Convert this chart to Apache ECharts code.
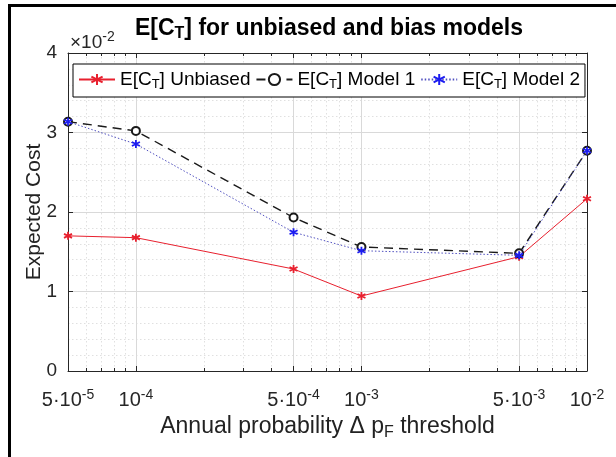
<!DOCTYPE html>
<html>
<head>
<meta charset="utf-8">
<script src="https://cdn.jsdelivr.net/npm/echarts@6/dist/echarts.min.js"></script>
<style>html,body{margin:0;padding:0;background:#fff;}#c{width:616px;height:457px;}</style>
</head>
<body>
<div id="c"></div>
<script>
// Data (cost values in units of 10^-2, as shown on the axis)
const thresholds = [5e-5, 1e-4, 5e-4, 1e-3, 5e-3, 1e-2];
const unbiased = [1.70, 1.677, 1.283, 0.943, 1.438, 2.167];
const model1   = [3.136, 3.02, 1.93, 1.56, 1.48, 2.77];
const model2   = [3.136, 2.855, 1.745, 1.513, 1.455, 2.77];
const xTickMant = ['5·10', '10', '5·10', '10', '5·10', '10'];
const xTickExp  = ['-5', '-4', '-4', '-3', '-3', '-2'];
const xMinorTicks = [6e-5, 7e-5, 8e-5, 9e-5, 2e-4, 3e-4, 4e-4, 6e-4, 7e-4, 8e-4, 9e-4,
                     2e-3, 3e-3, 4e-3, 6e-3, 7e-3, 8e-3, 9e-3];
const yTicks = [0, 1, 2, 3, 4];
const seriesNames = ['Unbiased', 'Model 1', 'Model 2'];

const FONT = '"Liberation Sans", Arial, sans-serif';
const lg = v => Math.log10(v);
const xMin = lg(thresholds[0]);
const xMax = lg(thresholds[thresholds.length - 1]);
const majorVals = thresholds.map(lg);
const minorVals = xMinorTicks.map(lg);
const pair = arr => thresholds.map((t, i) => [lg(t), arr[i]]);
const STAR = 'path://M0,-10L0,10M-8.66,-5L8.66,5M-8.66,5L8.66,-5';

const chart = echarts.init(document.getElementById('c'), null, {renderer: 'canvas'});

const baseX = {
  type: 'value', min: xMin, max: xMax, gridIndex: 0
};

const option = {
  animation: false,
  backgroundColor: '#fff',
  textStyle: {fontFamily: FONT},
  title: {
    text: '{a|E[C}{s|T}{a|] for unbiased and bias models}',
    left: 324, top: 10, textAlign: 'center',
    textStyle: {
      rich: {
        a: {fontFamily: FONT, fontSize: 23, fontWeight: 'bold', color: '#000'},
        s: {fontFamily: FONT, fontSize: 16, fontWeight: 'bold', color: '#000', padding: [11, 0, 0, 0]}
      }
    }
  },
  grid: {left: 68, right: 29, top: 53, bottom: 86, containLabel: false},
  legend: {
    left: 73, top: 64,
    orient: 'horizontal',
    backgroundColor: '#fff', borderColor: '#000', borderWidth: 1,
    padding: [6, 5, 6, 5],
    itemWidth: 36, itemHeight: 14, itemGap: 5,
    data: seriesNames,
    formatter: name => '{a|E[C}{s|T}{a|] ' + name + '}',
    textStyle: {
      rich: {
        a: {fontFamily: FONT, fontSize: 19, color: '#000'},
        s: {fontFamily: FONT, fontSize: 13, color: '#000', padding: [10, 0, 0, 0]}
      }
    }
  },
  xAxis: [
    Object.assign({}, baseX, {
      position: 'bottom',
      name: '{a|Annual probability \u0394 p}{s|F}{a| threshold}',
      nameLocation: 'middle', nameGap: 42, nameMoveOverlap: false,
      nameTextStyle: {
        rich: {
          a: {fontFamily: FONT, fontSize: 23, color: '#222'},
          s: {fontFamily: FONT, fontSize: 16, color: '#222', padding: [12, 0, 0, 0]}
        }
      },
      axisLine: {show: true, lineStyle: {color: '#262626', width: 1}},
      axisTick: {show: true, inside: true, length: 5, customValues: majorVals, lineStyle: {color: '#262626'}},
      axisLabel: {
        show: true, margin: 17, customValues: majorVals,
        formatter: v => {
          const i = majorVals.findIndex(m => Math.abs(m - v) < 1e-9);
          return i < 0 ? '' : '{m|' + xTickMant[i] + '}{e|' + xTickExp[i] + '}';
        },
        rich: {
          m: {fontFamily: FONT, fontSize: 20, color: '#262626'},
          e: {fontFamily: FONT, fontSize: 14, color: '#262626', padding: [0, 0, 11, 0]}
        }
      },
      splitLine: {show: true, lineStyle: {color: '#d9d9d9', width: 1}}
    }),
    Object.assign({}, baseX, {
      position: 'bottom',
      axisLine: {show: false},
      axisTick: {show: true, inside: true, length: 3, customValues: minorVals, lineStyle: {color: '#262626'}},
      axisLabel: {show: false},
      splitLine: {show: true, lineStyle: {color: '#e0e0e0', width: 1, type: [1.5, 2.5]}}
    }),
    Object.assign({}, baseX, {
      position: 'top',
      axisLine: {show: true, lineStyle: {color: '#262626', width: 1}},
      axisTick: {show: true, inside: true, length: 5, customValues: majorVals, lineStyle: {color: '#262626'}},
      axisLabel: {show: false},
      splitLine: {show: false}
    }),
    Object.assign({}, baseX, {
      position: 'top',
      axisLine: {show: false},
      axisTick: {show: true, inside: true, length: 3, customValues: minorVals, lineStyle: {color: '#262626'}},
      axisLabel: {show: false},
      splitLine: {show: false}
    })
  ],
  yAxis: [
    {
      type: 'value', position: 'left',
      min: yTicks[0], max: yTicks[yTicks.length - 1], interval: 1,
      name: 'Expected Cost', nameLocation: 'middle', nameGap: 23, nameMoveOverlap: false,
      nameTextStyle: {fontFamily: FONT, fontSize: 21, color: '#222'},
      axisLine: {show: true, lineStyle: {color: '#262626', width: 1}},
      axisTick: {show: true, inside: true, length: 5, lineStyle: {color: '#262626'}},
      axisLabel: {fontFamily: FONT, fontSize: 19, color: '#262626', margin: 11},
      splitLine: {show: true, lineStyle: {color: '#d9d9d9', width: 1}},
      minorTick: {show: false, splitNumber: 5},
      minorSplitLine: {show: true, lineStyle: {color: '#e0e0e0', width: 1, type: [1.5, 2.5]}}
    },
    {
      type: 'value', position: 'right',
      min: yTicks[0], max: yTicks[yTicks.length - 1], interval: 1,
      axisLine: {show: true, lineStyle: {color: '#262626', width: 1}},
      axisTick: {show: true, inside: true, length: 5, lineStyle: {color: '#262626'}},
      axisLabel: {show: false},
      splitLine: {show: false}
    }
  ],
  series: [
    {
      name: seriesNames[0], type: 'line', data: pair(unbiased),
      symbol: STAR, symbolSize: 8,
      lineStyle: {color: '#e8202e', width: 1},
      itemStyle: {color: '#e8202e', borderColor: '#e8202e', borderWidth: 1.8},
      z: 3
    },
    {
      name: seriesNames[1], type: 'line', data: pair(model1),
      symbol: 'emptyCircle', symbolSize: 8,
      lineStyle: {color: '#1a1a1a', width: 1.4, type: [9, 6]},
      itemStyle: {color: '#1a1a1a', borderColor: '#1a1a1a', borderWidth: 1.2},
      z: 4
    },
    {
      name: seriesNames[2], type: 'line', data: pair(model2),
      symbol: STAR, symbolSize: 8,
      lineStyle: {color: '#5050c0', width: 1, type: [1.5, 2]},
      itemStyle: {color: '#1c1cf0', borderColor: '#1c1cf0', borderWidth: 1.8},
      z: 5
    }
  ],
  graphic: [
    {type: 'line', shape: {x1: 9.5, y1: 4, x2: 9.5, y2: 457}, style: {stroke: '#000', lineWidth: 3}, silent: true},
    {type: 'line', shape: {x1: 8, y1: 5.5, x2: 616, y2: 5.5}, style: {stroke: '#000', lineWidth: 3}, silent: true},
    {
      type: 'text', left: 70, top: 30, silent: true,
      style: {
        text: '{m|\u00d710}{e|-2}',
        rich: {
          m: {fontFamily: FONT, fontSize: 19, fill: '#262626'},
          e: {fontFamily: FONT, fontSize: 14, fill: '#262626', padding: [0, 0, 11, 0]}
        }
      }
    }
  ]
};
chart.setOption(option);
</script>
</body>
</html>
